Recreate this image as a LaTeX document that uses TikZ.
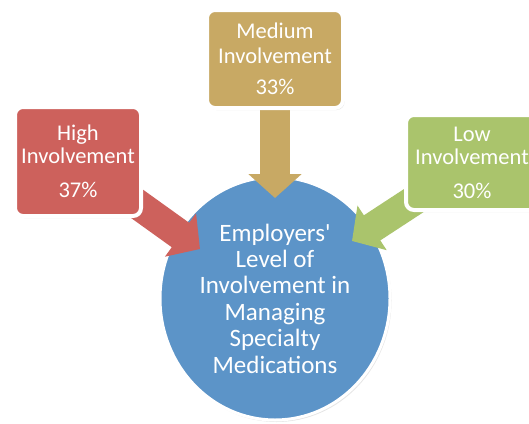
\documentclass[tikz,border=0pt]{standalone}
\usepackage{fontspec}
\setmainfont{Carlito}
\usetikzlibrary{arrows.meta,shapes.geometric,shadows}

\definecolor{hiRed}{RGB}{205,97,92}
\definecolor{medTan}{RGB}{200,169,100}
\definecolor{lowGreen}{RGB}{170,196,108}
\definecolor{coreBlue}{RGB}{92,148,200}

\tikzset{
  levelbox/.style={rounded corners=8pt, draw=white, line width=4pt,
    inner sep=0pt, align=center, text=white,
    font=\fontsize{22.5pt}{23pt}\selectfont,
    drop shadow={opacity=0.22, shadow xshift=1.5pt, shadow yshift=-2pt}},
  core/.style={ellipse, draw=white, line width=3pt, inner sep=0pt,
    fill=coreBlue, align=center, text=white,
    minimum width=230pt, minimum height=243pt,
    font=\fontsize{25pt}{26.4pt}\selectfont,
    drop shadow={opacity=0.2, shadow xshift=1.5pt, shadow yshift=-2pt}},
  blockarrow/.style={line width=30pt,
    -{Triangle[length=24pt, width=52pt]}}
}

\begin{document}
\begin{tikzpicture}[x=1pt, y=-1pt]
  \clip (0,0) rectangle (529,423);
  \fill[white] (0,0) rectangle (529,423);

  % central topic
  \node[core] (core) at (275,298.5)
    {Employers\textquotesingle\\Level of\\Involvement in\\Managing\\Specialty\\Medications};

  % arrow tips resting on the circle
  \coordinate (tipH) at (200,249);
  \coordinate (tipM) at (275,198);
  \coordinate (tipL) at (352,241);

  % centres of the three level boxes
  \path (78,161.5) coordinate (hiC);
  \path (275,59) coordinate (medC);
  \path (472,162.5) coordinate (lowC);

  \draw[blockarrow, draw=hiRed] (hiC) -- (tipH);
  \draw[blockarrow, draw=medTan] (medC) -- (tipM);
  \draw[blockarrow, draw=lowGreen] (lowC) -- (tipL);

  \node[levelbox, fill=hiRed, minimum width=126pt, minimum height=109pt]
    (high) at (hiC) {High\\Involvement\\[11pt]37\%};
  \node[levelbox, fill=medTan, minimum width=136pt, minimum height=98pt]
    (medium) at (medC) {Medium\\[2pt]Involvement\\[8pt]33\%};
  \node[levelbox, fill=lowGreen, minimum width=132pt, minimum height=95pt]
    (low) at (lowC) {Low\\Involvement\\[11pt]30\%};
\end{tikzpicture}
\end{document}
